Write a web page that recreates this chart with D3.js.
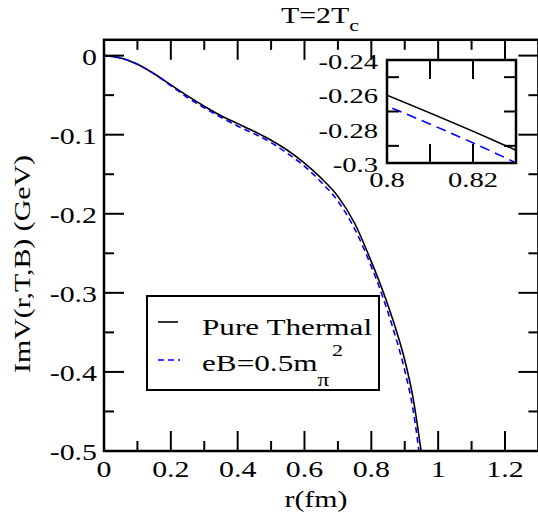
<!DOCTYPE html>
<html>
<head>
<meta charset="utf-8">
<script src="https://cdn.jsdelivr.net/npm/d3@7"></script>
<style>
  body { margin: 0; background: white; }
</style>
</head>
<body>
<script>
// Curves: Im V(r) in GeV against r in fm
const rValues     = [0, 0.05, 0.1, 0.15, 0.2, 0.25, 0.3, 0.35, 0.4, 0.45, 0.5, 0.55, 0.6, 0.65, 0.7, 0.75, 0.8, 0.825, 0.85, 0.875, 0.9, 0.925, 0.95];
const pureThermal = [0, -0.003, -0.011, -0.023, -0.037, -0.051, -0.064, -0.076, -0.086, -0.096, -0.107, -0.120, -0.136, -0.155, -0.178, -0.212, -0.2605, -0.287, -0.316, -0.348, -0.385, -0.433, -0.503];
const eBHalf      = [0, -0.003, -0.011, -0.023, -0.038, -0.053, -0.066, -0.078, -0.089, -0.099, -0.110, -0.124, -0.140, -0.160, -0.184, -0.219, -0.2668, -0.294, -0.325, -0.359, -0.398, -0.448, -0.525];

// Ticks
const xMajorTicks = [0, 0.2, 0.4, 0.6, 0.8, 1, 1.2];
const xMinorTicks = [0.1, 0.3, 0.5, 0.7, 0.9, 1.1];
const yMajorTicks = [0, -0.1, -0.2, -0.3, -0.4, -0.5];
const yMinorTicks = [-0.05, -0.15, -0.25, -0.35, -0.45];
const insetXTicks = [0.81, 0.82];
const insetXLabels = [0.8, 0.82];
const insetYTicks = [-0.25, -0.27, -0.29];
const insetYLabels = [-0.24, -0.26, -0.28, -0.3];

// Create SVG
const width = 538, height = 516;
const svg = d3.select('body')
    .append('svg')
    .attr('width', width)
    .attr('height', height)
    .attr('font-family', "'Liberation Serif', 'Times New Roman', Times, serif");

// the original font runs wide, so stretch text along its baseline
const sx = 1.3;
const fmt = (d) => String(+d.toFixed(3));

function addText(g, x, y, str, size, anchor, rot) {
    return g.append('text')
        .attr('transform', `translate(${x},${y})${rot ? ' rotate(' + rot + ')' : ''} scale(${sx},1)`)
        .attr('font-size', size)
        .attr('text-anchor', anchor)
        .text(str);
}

// Main scales
const x = d3.scaleLinear([0, 1.3], [104, 538.4]);
const y = d3.scaleLinear([-0.5, 0.02], [451, 39.8]);

const thermalPts = rValues.map((r, i) => [r, pureThermal[i]]);
const eBPts = rValues.map((r, i) => [r, eBHalf[i]]);

svg.append('clipPath').attr('id', 'mainclip')
    .append('rect')
    .attr('x', x(0)).attr('y', y(0.02))
    .attr('width', x(1.3) - x(0)).attr('height', y(-0.5) - y(0.02));

const mainLine = d3.line()
    .x((d) => x(d[0]))
    .y((d) => y(d[1]))
    .curve(d3.curveMonotoneX);

const plot = svg.append('g').attr('clip-path', 'url(#mainclip)');
plot.append('path')
    .attr('d', mainLine(thermalPts))
    .attr('fill', 'none').attr('stroke', 'black').attr('stroke-width', 1.6);
plot.append('path')
    .attr('d', mainLine(eBPts))
    .attr('fill', 'none').attr('stroke', '#0000ff').attr('stroke-width', 1.6)
    .attr('stroke-dasharray', '6,4');

// Ticks pointing inwards on all four sides
function ticksX(g, sc, vals, y0, y1, len) {
    g.selectAll(null).data(vals).join('line')
        .attr('x1', (d) => sc(d)).attr('x2', (d) => sc(d))
        .attr('y1', y0).attr('y2', y0 - len)
        .attr('stroke', 'black').attr('stroke-width', 2);
    g.selectAll(null).data(vals).join('line')
        .attr('x1', (d) => sc(d)).attr('x2', (d) => sc(d))
        .attr('y1', y1).attr('y2', y1 + len)
        .attr('stroke', 'black').attr('stroke-width', 2);
}
function ticksY(g, sc, vals, x0, x1, len) {
    g.selectAll(null).data(vals).join('line')
        .attr('y1', (d) => sc(d)).attr('y2', (d) => sc(d))
        .attr('x1', x0).attr('x2', x0 + len)
        .attr('stroke', 'black').attr('stroke-width', 2);
    g.selectAll(null).data(vals).join('line')
        .attr('y1', (d) => sc(d)).attr('y2', (d) => sc(d))
        .attr('x1', x1).attr('x2', x1 - len)
        .attr('stroke', 'black').attr('stroke-width', 2);
}

const axes = svg.append('g');
ticksX(axes, x, xMajorTicks, y(-0.5), y(0.02), 20);
ticksX(axes, x, xMinorTicks, y(-0.5), y(0.02), 10);
ticksY(axes, y, yMajorTicks, x(0), x(1.3), 20);
ticksY(axes, y, yMinorTicks, x(0), x(1.3), 10);

// Frame
axes.append('rect')
    .attr('x', x(0)).attr('y', y(0.02))
    .attr('width', x(1.3) - x(0)).attr('height', y(-0.5) - y(0.02))
    .attr('fill', 'none').attr('stroke', 'black').attr('stroke-width', 2.5);

// Tick labels
xMajorTicks.forEach((d) => addText(svg, x(d), 477, fmt(d), 23, 'middle'));
yMajorTicks.forEach((d) => addText(svg, 97, y(d) + 9, fmt(d), 23, 'end'));

// Axis titles
addText(svg, 316, 507, 'r(fm)', 23, 'middle');
addText(svg, 30, 264, 'ImV(r,T,B) (GeV)', 23, 'middle', -90);

// Title
const title = addText(svg, 320, 23, 'T=2T', 23, 'middle');
title.append('tspan').attr('font-size', 17).attr('dy', 8).text('c');

// Legend
const legend = svg.append('g');
legend.append('rect')
    .attr('x', 147).attr('y', 296).attr('width', 232).attr('height', 94)
    .attr('fill', 'white').attr('stroke', 'black').attr('stroke-width', 2);
legend.append('line')
    .attr('x1', 158).attr('x2', 178).attr('y1', 322).attr('y2', 322)
    .attr('stroke', 'black').attr('stroke-width', 1.6);
legend.append('line')
    .attr('x1', 158).attr('x2', 180).attr('y1', 360).attr('y2', 360)
    .attr('stroke', '#0000ff').attr('stroke-width', 1.6).attr('stroke-dasharray', '6,4');
addText(legend, 202, 335, 'Pure Thermal', 24, 'start');
const eBLabel = addText(legend, 202, 371, 'eB=0.5m', 24, 'start');
eBLabel.append('tspan').attr('font-size', 18).attr('dy', 15).text('π');
eBLabel.append('tspan').attr('font-size', 17).attr('dx', 2).attr('dy', -30).text('2');

// Inset
const xi = d3.scaleLinear([0.8, 0.83], [387, 516]);
const yi = d3.scaleLinear([-0.3, -0.24], [163, 60]);

const inset = svg.append('g');
inset.append('rect')
    .attr('x', xi(0.8)).attr('y', yi(-0.24))
    .attr('width', xi(0.83) - xi(0.8)).attr('height', yi(-0.3) - yi(-0.24))
    .attr('fill', 'white');

svg.append('clipPath').attr('id', 'insetclip')
    .append('rect')
    .attr('x', xi(0.8)).attr('y', yi(-0.24))
    .attr('width', xi(0.83) - xi(0.8)).attr('height', yi(-0.3) - yi(-0.24));

const insetLine = d3.line()
    .x((d) => xi(d[0]))
    .y((d) => yi(d[1]))
    .curve(d3.curveMonotoneX);

const insetPlot = inset.append('g').attr('clip-path', 'url(#insetclip)');
insetPlot.append('path')
    .attr('d', insetLine(thermalPts))
    .attr('fill', 'none').attr('stroke', 'black').attr('stroke-width', 1.6);
insetPlot.append('path')
    .attr('d', insetLine(eBPts))
    .attr('fill', 'none').attr('stroke', '#0000ff').attr('stroke-width', 1.6)
    .attr('stroke-dasharray', '10,6');

ticksX(inset, xi, insetXTicks, yi(-0.3), yi(-0.24), 19);
ticksY(inset, yi, insetYTicks, xi(0.8), xi(0.83), 12);

inset.append('rect')
    .attr('x', xi(0.8)).attr('y', yi(-0.24))
    .attr('width', xi(0.83) - xi(0.8)).attr('height', yi(-0.3) - yi(-0.24))
    .attr('fill', 'none').attr('stroke', 'black').attr('stroke-width', 2.5);

insetXLabels.forEach((d) => addText(inset, xi(d), 187, fmt(d), 22, 'middle'));
insetYLabels.forEach((d) => addText(inset, 378, yi(d) + 9, fmt(d), 22, 'end'));
</script>
</body>
</html>
